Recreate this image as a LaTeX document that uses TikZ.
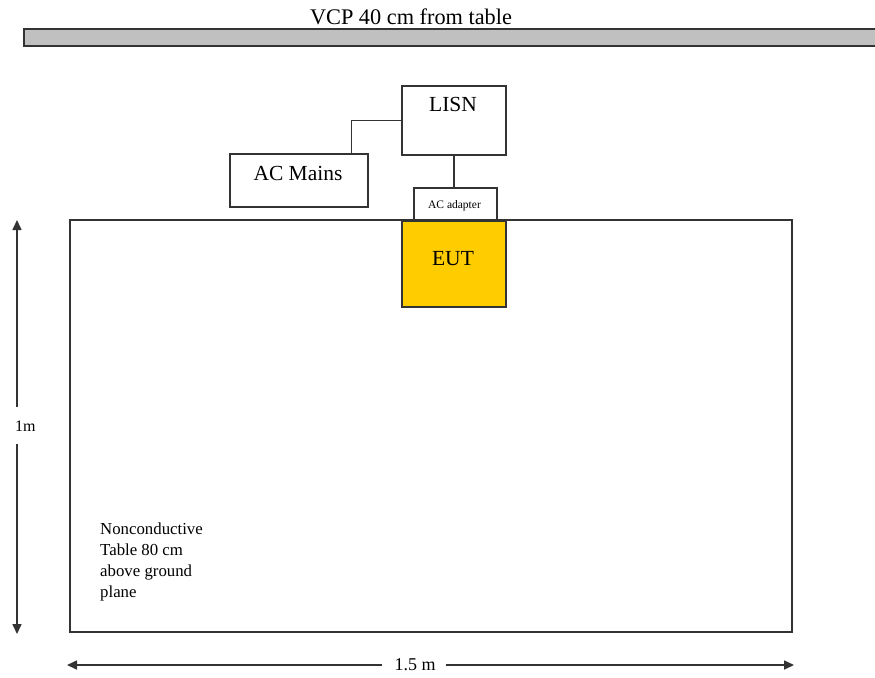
\documentclass[tikz,border=0pt]{standalone}
\usepackage{fontspec}
\setmainfont{Liberation Serif}
\usetikzlibrary{arrows.meta}
\definecolor{linegray}{HTML}{333333}
\definecolor{eutyellow}{HTML}{FFCC00}
\definecolor{vcpgray}{HTML}{C0C0C0}
\tikzset{
  box/.style={draw=linegray, line width=1.6pt, fill=white, inner sep=0pt, anchor=north west},
  wire/.style={draw=linegray, line width=1.6pt},
  dim/.style={draw=linegray, line width=1.6pt, -{Triangle[length=10pt,width=9pt]}},
  txt/.style={inner sep=0pt, font=\fontsize{21.5}{24}\selectfont},
}
\begin{document}
\begin{tikzpicture}[x=1pt,y=-1pt]
\useasboundingbox (0,0) rectangle (875,677);
% VCP
\node[box, fill=vcpgray, minimum width=860, minimum height=17] (vcp) at (23,28) {};
\node[txt, font=\fontsize{22.3}{24}\selectfont] (vcplabel) at (411,17) {VCP 40 cm from table};
% table
\node[box, minimum width=722, minimum height=412] (table) at (69,219) {};
% LISN
\node[box, minimum width=104, minimum height=69] (lisn) at (401,85) {};
\node[txt] (lisnlabel) at (453,104) {LISN};
% AC Mains
\node[box, minimum width=138, minimum height=53] (acm) at (229,153) {};
\node[txt] (acmlabel) at (298,173) {AC Mains};
% AC adapter
\node[box, minimum width=83, minimum height=32] (adapter) at (413,187) {};
\node[inner sep=0pt, font=\fontsize{11.5}{13}\selectfont] (adlabel) at (454.5,206) {AC adapter};
% EUT
\node[box, fill=eutyellow, minimum width=104, minimum height=86] (eut) at (401,220) {};
\node[txt] (eutlabel) at (453,259) {EUT};
% connectors
\draw[wire] ([xshift=-17pt]acm.north east) |- (lisn.west);
\draw[wire] (lisn.south) -- (lisn.south |- adapter.north);
% table text
\node[inner sep=0pt, anchor=north west, align=left, font=\fontsize{16.8}{21}\selectfont] (tabletext) at (100,523)
  {Nonconductive\\Table 80 cm\\above ground\\plane};
% vertical dimension
\coordinate (vtop) at (17,220);
\coordinate (vbot) at (17,634);
\node[inner sep=0pt, anchor=west, font=\fontsize{16}{18}\selectfont] (onem) at (15,426) {1m};
\draw[dim] (17,407) -- (vtop);
\draw[dim] (17,444) -- (vbot);
% horizontal dimension
\coordinate (hleft) at (67,665);
\coordinate (hright) at (794,665);
\node[inner sep=0pt, font=\fontsize{18}{20}\selectfont] (onefive) at (415,665) {1.5 m};
\draw[dim] ([xshift=-12pt]onefive.west) -- (hleft);
\draw[dim] ([xshift=10pt]onefive.east) -- (hright);
\end{tikzpicture}
\end{document}
